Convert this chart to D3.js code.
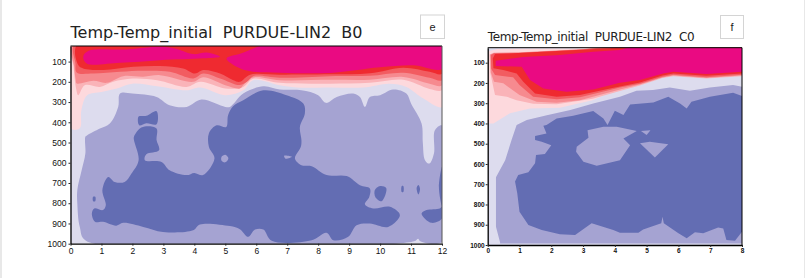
<!DOCTYPE html>
<html>
<head>
<meta charset="utf-8">
<script src="https://cdn.jsdelivr.net/npm/d3@7"></script>
<style>
  html, body { margin: 0; padding: 0; background: #fff; }
  svg { display: block; }
  text { font-family: "Liberation Sans", sans-serif; }
</style>
</head>
<body>
<div id="chart"></div>
<script>
// values: [month, hPa]
const yTicks = [100, 200, 300, 400, 500, 600, 700, 800, 900, 1000];
const xTicksE = [0, 1, 2, 3, 4, 5, 6, 7, 8, 9, 10, 11, 12];
const xTicksF = [0, 1, 2, 3, 4, 5, 6, 7, 8];

const colors = {
  light: "#dddcee", pale: "#fdd9dd", rose: "#fab3b8", salmon: "#f68a8f",
  coral: "#f25c61", red: "#ef2a30", magenta: "#ea0a82", mid: "#a5a3d2", dark: "#636db3"
};

// panel e
const eLevel1 = [[0,10],[0,430],[.3,430],[.35,340],[.54,266],[1,250],[1.5,233],[2,209],[2.8,222],[3.75,242],[4.2,228],[5,266],[5.58,242],[5.9,192],[6.76,217],[7.3,228],[8.38,228],[9.46,228],[10.3,209],[10.85,225],[11.4,283],[12,324],[12,10]];
const eLevel2 = [[.06,10],[.1,126],[.18,233],[.25,266],[.46,217],[.95,225],[1.38,200],[2,184],[2.8,192],[3.75,225],[4.2,200],[5,233],[5.58,225],[5.9,185],[6.76,205],[8.38,209],[9.67,205],[10.75,190],[11.6,235],[12,240],[12,10]];
const eLevel3 = [[.1,10],[.12,126],[.17,192],[.2,208],[.74,195],[1.17,205],[1.7,172],[2.35,175],[2.89,167],[3.97,200],[4.29,178],[5,217],[5.47,233],[5.58,217],[5.9,179],[6.76,192],[8.38,190],[9.67,190],[10.75,176],[11.6,209],[12,217],[12,10]];
const eLevel4 = [[.15,10],[.16,110],[.2,154],[.74,159],[1.6,150],[2.35,145],[3.21,150],[3.97,183],[4.29,159],[4.83,183],[5.47,216],[5.7,200],[5.9,172],[6.76,180],[8.38,172],[9.67,170],[10.75,155],[11.6,180],[12,192],[12,10]];
const eLevel5 = [[.24,10],[.25,117],[.41,134],[1.06,142],[2.03,126],[2.89,122],[3.64,134],[4.02,159],[4.29,142],[4.83,159],[5.26,192],[5.47,200],[5.8,165],[6.76,165],[8.38,163],[9.67,158],[10.75,130],[11.6,150],[12,160],[12,10]];
const eCoreLeft = [[.41,76],[.57,48],[1.81,40],[2.89,27],[3.37,35],[3.97,63],[4.4,55],[4.83,76],[4.29,84],[2.89,93],[1.6,106],[.52,109]];
const eCoreRight = [[5.04,85],[5.5,60],[6.5,10],[12,10],[12,135],[11.07,118],[9.99,128],[8.38,156],[6.76,155],[5.8,148],[5.4,128]];
const eMid = [[1.6,258],[2,258],[2.78,275],[3.2,316],[3.75,324],[4.23,288],[5,324],[5.15,324],[5.58,258],[6.23,222],[6.76,238],[7.46,242],[8,266],[8.25,304],[8.6,275],[9.13,258],[9.35,275],[9.51,324],[9.67,275],[10,266],[10.42,238],[10.85,258],[11,307],[11.34,406],[11.38,500],[11.45,587],[11.59,604],[11.74,554],[11.77,439],[12,415],[12,990],[11.3,988],[11.23,975],[11.1,988],[.5,985],[.3,917],[.22,801],[.22,735],[.36,637],[.48,554],[.48,472],[.54,464],[.95,431],[1.27,406],[1.54,324]];
const eDark = [[.69,851],[.77,826],[1.05,834],[1.14,810],[1.03,735],[1.22,670],[1.43,695],[1.75,695],[1.97,653],[2.2,587],[2.05,488],[2.05,472],[2.24,431],[2.45,420],[2.78,431],[2.78,488],[2.86,538],[2.45,558],[2.4,587],[2.94,596],[3.2,637],[3.75,661],[4,650],[4.28,661],[4.65,579],[4.47,521],[4.47,455],[4.72,415],[5.03,423],[5.09,365],[5.25,321],[5.58,291],[6.23,242],[6.98,266],[7.52,307],[7.57,357],[7.41,423],[7.46,489],[7.44,521],[7.25,579],[7.46,612],[7.79,617],[8.27,661],[8.92,666],[9.35,711],[9.67,727],[9.65,769],[9.51,805],[9.78,826],[10.32,818],[10.64,859],[10.26,917],[9.67,900],[9.24,909],[8.97,966],[8.49,983],[8.27,946],[7.79,983],[6.5,986],[6.23,930],[5.96,930],[5.74,966],[5.47,928],[5.15,913],[4.18,905],[3.96,934],[2.99,942],[2.35,917],[1.7,897],[1.48,911],[1.05,892],[.79,892]];
const eDarkBlob1 = [[2.2,372],[2.45,368],[2.78,345],[2.78,410],[2.45,405],[2.22,415]];
const eDarkBlob2 = [[9.83,735],[10.0,715],[10.2,725],[10.05,790],[9.85,770]];
const eDarkBlob3 = [[11.34,851],[11.5,834],[11.93,826],[12,815],[12,876],[11.66,897]];
const eDarkEdge = [[12,620],[11.9,720],[12,815]];
const eDarkDot1 = [[10.7,715],[10.75,715],[10.75,745],[10.7,745]];
const eDarkDot2 = [[11.18,725],[11.24,710],[11.29,730],[11.24,757]];
const eDarkDot3 = [[.73,768],[.8,768],[.8,790],[.73,790]];
const eMidHole1 = [[4.88,570],[5,560],[5.1,578],[5,598],[4.88,590]];
const eMidHole2 = [[6.9,565],[7.15,570],[6.95,580]];

// panel f
const fLevel1 = [[0,45],[.3,32],[3,30],[4.5,10],[8,10],[8,161],[6.78,173],[5.73,161],[4.79,202],[4.16,227],[3.3,285],[2.27,322],[1.33,326],[.7,350],[.18,400],[0,400]];
const fLevel2 = [[.06,60],[.08,150],[.23,260],[.6,268],[.91,285],[1.43,303],[2.17,305],[3.3,278],[4.16,240],[4.79,212],[5.5,176],[5.84,167],[6.88,178],[8,167],[8,10],[4.5,10],[3,33],[1,48],[.2,50]];
const fLevel3 = [[.08,60],[.1,150],[.2,194],[.49,202],[1,260],[1.54,293],[2.17,298],[2.9,285],[4.16,232],[4.79,208],[5.5,173],[5.84,163],[6.88,175],[8,163],[8,10],[4.45,10],[3,34],[1,50],[.2,52]];
const fLevel4 = [[.1,62],[.11,130],[.23,161],[.8,172],[1,210],[1.43,268],[2.17,281],[2.9,271],[4.16,222],[4.79,204],[5.5,170],[5.84,160],[6.88,172],[8,160],[8,10],[4.42,10],[3,35],[1,52],[.2,54]];
const fLevel5 = [[.16,79],[.18,128],[.49,136],[.91,153],[1.12,194],[1.49,252],[2.17,268],[2.9,260],[3.85,228],[4.79,198],[5.5,163],[5.84,153],[6.88,165],[8,153],[8,10],[4.4,10],[3.85,29],[.8,54],[.23,57]];
const fCore = [[.25,90],[.25,116],[1.07,120],[1.33,186],[1.75,227],[2.48,243],[3.32,232],[4.16,199],[4.79,186],[5.52,153],[5.84,145],[6.88,156],[8,145],[8,10],[4.74,10],[4.16,37],[3.32,46],[2.27,62],[1.12,72]];
const fMid = [[.39,988],[.26,910],[.26,666],[.55,581],[.75,482],[.91,408],[1.23,383],[1.86,359],[2.6,334],[3.32,301],[4.16,268],[4.68,238],[5.2,235],[5.73,222],[6.36,238],[6.99,222],[7.72,210],[8,219],[8,992],[.39,992]];
const fDark = [[.86,687],[.96,655],[1.28,641],[1.49,597],[1.52,556],[1.8,551],[2,507],[1.7,490],[1.49,482],[1.49,462],[1.85,449],[1.75,411],[1.85,408],[2.17,375],[2.69,362],[3.32,339],[3.64,375],[3.77,408],[4,337],[4.27,358],[4.48,306],[5.21,296],[5.68,268],[6.05,301],[6.26,326],[6.41,293],[6.99,268],[7.72,248],[8,265],[8,934],[7.78,979],[7.51,975],[7.41,918],[7.25,914],[6.78,942],[6.52,937],[6.26,967],[6,942],[5.54,893],[5.5,860],[5.46,893],[4.89,923],[4.74,939],[4.16,939],[3.95,926],[3.27,893],[2.75,951],[2.27,947],[1.7,926],[1.28,901],[1,836],[.93,745]];
const fMidHole1 = [[2.8,515],[3.17,470],[3.14,433],[3.64,416],[4.06,416],[4.69,437],[4.27,474],[4.48,507],[4.16,581],[3.43,609],[3.01,589],[2.78,540]];
const fMidHole2 = [[4.82,437],[5.12,434],[5,457]];
const fMidHole3 = [[4.79,498],[5.1,490],[5.68,503],[5.26,568]];

const panelE = {
  id: "e", left: 70.5, right: 442, top: 46, bottom: 243.7, yMin: 23, xMax: 12, xTicks: xTicksE,
  title: "Temp-Temp_initial  PURDUE-LIN2  B0", titleY: 38, titleWidth: 292, titleSize: 16,
  tickSize: 8.5, tickWeight: "normal", tickPad: 2, box: [420.5, 15, 24, 23.5], smooth: true,
  layers: [
    [eLevel1, "pale"], [eLevel2, "rose"], [eLevel3, "salmon"], [eLevel4, "coral"], [eLevel5, "red"],
    [eCoreLeft, "magenta"], [eCoreRight, "magenta"],
    [eMid, "mid"], [eDark, "dark"], [eDarkBlob1, "dark"], [eDarkBlob2, "dark"], [eDarkBlob3, "dark"],
    [eDarkEdge, "dark"], [eDarkDot1, "dark"], [eDarkDot2, "dark"], [eDarkDot3, "dark"],
    [eMidHole1, "mid"], [eMidHole2, "mid"]
  ]
};
const panelF = {
  id: "f", left: 487.7, right: 742, top: 47.7, bottom: 245, yMin: 26, xMax: 8, xTicks: xTicksF,
  title: "Temp-Temp_initial  PURDUE-LIN2  C0", titleY: 41, titleWidth: 207, titleSize: 12,
  tickSize: 6.5, tickWeight: "bold", tickPad: 1, box: [720.5, 15.5, 23, 23], smooth: false,
  layers: [
    [fLevel1, "pale"], [fLevel2, "rose"], [fLevel3, "salmon"], [fLevel4, "coral"], [fLevel5, "red"], [fCore, "magenta"],
    [fMid, "mid"], [fDark, "dark"], [fMidHole1, "mid"], [fMidHole2, "mid"], [fMidHole3, "mid"]
  ]
};

const svg = d3.select("#chart").append("svg").attr("width", 805).attr("height", 278);

// grey edge of the page in the screenshot
svg.append("rect").attr("x", 0).attr("y", 0).attr("width", 2).attr("height", 278).attr("fill", "#e8e8e8");
svg.append("rect").attr("x", 804).attr("y", 0).attr("width", 1).attr("height", 278).attr("fill", "#e8e8e8");

function drawPanel(p) {
  const x = d3.scaleLinear().domain([0, p.xMax]).range([p.left, p.right]);
  const y = d3.scaleLinear().domain([p.yMin, 1000]).range([p.top, p.bottom]);

  svg.append("clipPath").attr("id", "clip-" + p.id)
    .append("rect")
    .attr("x", p.left).attr("y", p.top)
    .attr("width", p.right - p.left).attr("height", p.bottom - p.top);

  const g = svg.append("g").attr("clip-path", `url(#clip-${p.id})`);

  g.append("rect")
    .attr("x", p.left).attr("y", p.top)
    .attr("width", p.right - p.left).attr("height", p.bottom - p.top)
    .attr("fill", colors.light);

  const shape = d3.line()
    .x(d => x(d[0]))
    .y(d => y(d[1]))
    .curve(p.smooth ? d3.curveCatmullRomClosed.alpha(0.5) : d3.curveLinearClosed);

  g.selectAll("path")
    .data(p.layers)
    .enter().append("path")
    .attr("d", d => shape(d[0]))
    .attr("fill", d => colors[d[1]]);

  // Ejes
  const axisY = svg.append("g")
    .attr("transform", `translate(${p.left},0)`)
    .call(d3.axisLeft(y).tickValues(yTicks).tickFormat(d3.format("d")).tickSize(2).tickPadding(p.tickPad).tickSizeOuter(0));
  const axisX = svg.append("g")
    .attr("transform", `translate(0,${p.bottom})`)
    .call(d3.axisBottom(x).tickValues(p.xTicks).tickFormat(d3.format("d")).tickSize(2).tickPadding(p.tickPad).tickSizeOuter(0));

  [axisY, axisX].forEach(a => {
    a.selectAll("text")
      .attr("fill", "#111")
      .style("font-family", "'Liberation Sans', sans-serif")
      .style("font-size", p.tickSize + "px")
      .style("font-weight", p.tickWeight);
    a.selectAll("line").attr("stroke", "#222");
    a.select(".domain").attr("stroke", "#000").attr("stroke-width", 1.3);
  });

  // frame
  svg.append("line").attr("x1", p.left).attr("x2", p.right).attr("y1", p.top).attr("y2", p.top)
    .attr("stroke", "#000").attr("stroke-width", 1);
  svg.append("line").attr("x1", p.right).attr("x2", p.right).attr("y1", p.top).attr("y2", p.bottom)
    .attr("stroke", p.id === "e" ? "#555" : "#000").attr("stroke-width", 1);

  svg.append("text")
    .attr("x", p.left)
    .attr("y", p.titleY)
    .attr("textLength", p.titleWidth)
    .attr("lengthAdjust", "spacing")
    .style("font-family", "'DejaVu Sans', sans-serif")
    .style("font-size", p.titleSize + "px")
    .attr("fill", "#222")
    .style("white-space", "pre")
    .text(p.title);

  svg.append("rect")
    .attr("x", p.box[0]).attr("y", p.box[1])
    .attr("width", p.box[2]).attr("height", p.box[3])
    .attr("fill", "#fff").attr("stroke", "#d4d4d4");
  svg.append("text")
    .attr("x", p.box[0] + p.box[2] / 2)
    .attr("y", p.box[1] + p.box[3] / 2 + 4)
    .attr("text-anchor", "middle")
    .style("font-size", "11px")
    .attr("fill", "#222")
    .text(p.id);
}

drawPanel(panelE);
drawPanel(panelF);
</script>
</body>
</html>
